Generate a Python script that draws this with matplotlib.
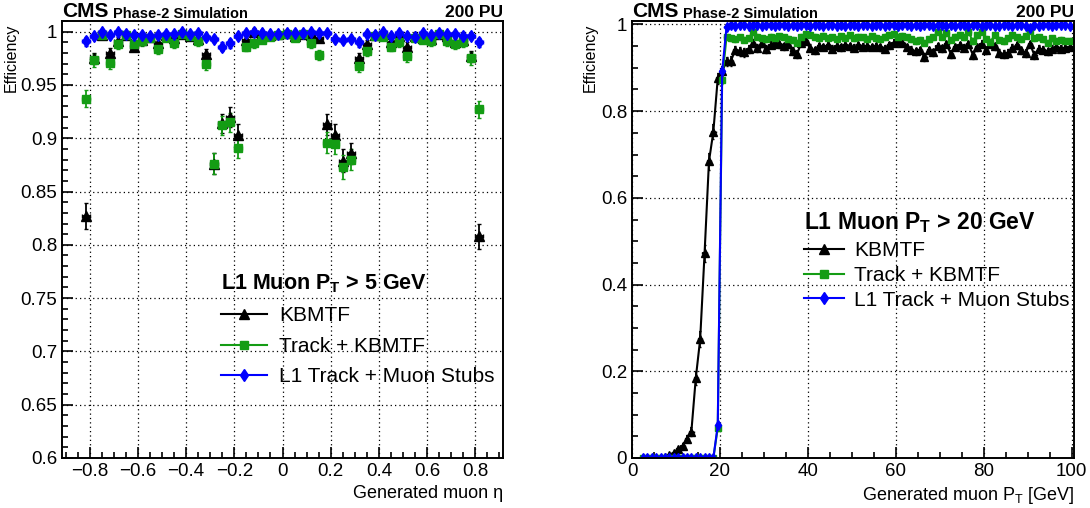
import numpy as np
import matplotlib
matplotlib.use("Agg")
import matplotlib.pyplot as plt
from matplotlib.lines import Line2D
from matplotlib.ticker import MultipleLocator

plt.rcParams['font.family'] = ['Liberation Sans', 'DejaVu Sans']
plt.rcParams['mathtext.fontset'] = 'custom'
plt.rcParams['mathtext.rm'] = 'Liberation Sans'
plt.rcParams['mathtext.it'] = 'Liberation Sans:italic'
plt.rcParams['mathtext.bf'] = 'Liberation Sans:bold'

# ---- efficiency vs eta (50 bins in |eta| < 0.833) ----
eta_edges = np.linspace(-5 / 6, 5 / 6, 51)
eta = 0.5 * (eta_edges[1:] + eta_edges[:-1])
eta_halfwidth = 0.5 * (eta_edges[1] - eta_edges[0])

kbmtf_eta = [0.827, 0.975, 0.997, 0.980, 0.991, 0.997, 0.986, 0.992, 0.995, 0.989,
             0.997, 0.994, 0.998, 0.996, 0.993, 0.979, 0.876, 0.914, 0.920, 0.903,
             0.992, 1.000, 0.999, 0.997, 0.998, 0.999, 0.996, 0.998, 0.997, 0.994,
             0.913, 0.903, 0.879, 0.886, 0.975, 0.988, 0.997, 0.998, 0.990, 0.996,
             0.986, 0.996, 0.994, 0.993, 0.998, 0.996, 0.990, 0.992, 0.977, 0.808]
track_eta = [0.937, 0.973, 0.997, 0.971, 0.988, 0.997, 0.988, 0.991, 0.994, 0.984,
             0.994, 0.989, 0.998, 0.996, 0.991, 0.970, 0.876, 0.912, 0.915, 0.891,
             0.986, 0.989, 0.992, 0.995, 0.997, 0.998, 0.994, 0.998, 0.989, 0.978,
             0.896, 0.895, 0.873, 0.880, 0.968, 0.982, 0.996, 0.995, 0.986, 0.990,
             0.977, 0.994, 0.992, 0.991, 0.998, 0.991, 0.988, 0.990, 0.975, 0.927]
stubs_eta = [0.991, 0.996, 1.000, 0.997, 1.000, 0.998, 0.997, 0.997, 0.996, 0.997,
             0.998, 0.998, 1.000, 0.998, 0.999, 0.995, 0.993, 0.986, 0.989, 0.996,
             0.999, 1.000, 0.999, 0.998, 0.998, 0.999, 0.999, 0.999, 1.000, 0.999,
             0.999, 0.993, 0.992, 0.993, 0.990, 0.998, 0.997, 1.000, 0.996, 0.999,
             0.996, 0.995, 0.999, 0.997, 0.999, 0.998, 0.998, 0.996, 0.996, 0.990]

kbmtf_eta_err = [0.012, 0.005, 0.003, 0.005, 0.004, 0.003, 0.004, 0.004, 0.003, 0.004,
                 0.003, 0.003, 0.003, 0.003, 0.004, 0.005, 0.010, 0.009, 0.009, 0.010,
                 0.004, 0.003, 0.003, 0.003, 0.003, 0.003, 0.003, 0.003, 0.003, 0.003,
                 0.010, 0.010, 0.011, 0.010, 0.005, 0.004, 0.003, 0.003, 0.004, 0.003,
                 0.004, 0.003, 0.003, 0.003, 0.003, 0.003, 0.004, 0.004, 0.005, 0.012]
track_eta_err = [0.008, 0.006, 0.003, 0.006, 0.004, 0.003, 0.004, 0.004, 0.003, 0.005,
                 0.003, 0.004, 0.003, 0.003, 0.004, 0.006, 0.010, 0.009, 0.009, 0.010,
                 0.004, 0.004, 0.003, 0.003, 0.003, 0.003, 0.003, 0.003, 0.004, 0.005,
                 0.010, 0.010, 0.011, 0.010, 0.006, 0.005, 0.003, 0.003, 0.004, 0.004,
                 0.005, 0.003, 0.003, 0.004, 0.003, 0.004, 0.004, 0.004, 0.006, 0.008]
stubs_eta_err = [0.004, 0.003, 0.002, 0.003, 0.002, 0.002, 0.002, 0.002, 0.003, 0.002,
                 0.002, 0.002, 0.002, 0.002, 0.002, 0.003, 0.003, 0.004, 0.004, 0.003,
                 0.002, 0.002, 0.002, 0.002, 0.002, 0.002, 0.002, 0.002, 0.002, 0.002,
                 0.002, 0.003, 0.003, 0.003, 0.004, 0.002, 0.002, 0.002, 0.003, 0.002,
                 0.003, 0.003, 0.002, 0.002, 0.002, 0.002, 0.002, 0.003, 0.003, 0.004]

# ---- efficiency vs generated pT (1 GeV bins, 2-100 GeV) ----
pt = np.arange(2.5, 100.0, 1.0)

kbmtf_pt = [0.000, 0.000, 0.000, 0.000, 0.001, 0.003, 0.008, 0.012, 0.020, 0.028,
            0.044, 0.061, 0.184, 0.274, 0.472, 0.684, 0.753, 0.876, 0.892,
            0.915, 0.916, 0.942, 0.938, 0.936, 0.943, 0.958, 0.946, 0.957, 0.944,
            0.953, 0.957, 0.954, 0.950, 0.954, 0.938, 0.931, 0.958, 0.962, 0.946,
            0.940, 0.950, 0.948, 0.952, 0.944, 0.951, 0.947, 0.953, 0.950, 0.946,
            0.952, 0.949, 0.951, 0.948, 0.950, 0.947, 0.944, 0.952, 0.958, 0.962,
            0.958, 0.948, 0.942, 0.938, 0.940, 0.925, 0.940, 0.936, 0.950, 0.945,
            0.955, 0.932, 0.948, 0.952, 0.946, 0.955, 0.930, 0.947, 0.956, 0.940,
            0.955, 0.950, 0.934, 0.932, 0.935, 0.946, 0.952, 0.940, 0.935, 0.955,
            0.929, 0.944, 0.942, 0.938, 0.944, 0.947, 0.944, 0.946, 0.948]
track_pt = [0.000, 0.000, 0.000, 0.000, 0.000, 0.000, 0.000, 0.000, 0.000, 0.000,
            0.000, 0.000, 0.000, 0.000, 0.000, 0.000, 0.000, 0.070, 0.873,
            0.972, 0.968, 0.966, 0.970, 0.965, 0.968, 0.982, 0.972, 0.968, 0.966,
            0.972, 0.969, 0.973, 0.970, 0.967, 0.964, 0.958, 0.972, 0.978, 0.976,
            0.972, 0.969, 0.974, 0.968, 0.970, 0.966, 0.973, 0.969, 0.975, 0.968,
            0.972, 0.970, 0.967, 0.973, 0.969, 0.966, 0.971, 0.976, 0.978, 0.972,
            0.974, 0.970, 0.966, 0.962, 0.965, 0.958, 0.966, 0.970, 0.983, 0.972,
            0.980, 0.965, 0.972, 0.976, 0.970, 0.982, 0.962, 0.975, 0.982, 0.967,
            0.960, 0.976, 0.965, 0.962, 0.968, 0.975, 0.970, 0.966, 0.974, 0.985,
            0.968, 0.970, 0.966, 0.958, 0.968, 0.962, 0.965, 0.963, 0.962]
stubs_pt = [0.000, 0.000, 0.000, 0.000, 0.000, 0.000, 0.000, 0.000, 0.000, 0.000,
            0.000, 0.000, 0.000, 0.000, 0.000, 0.000, 0.000, 0.075, 0.892,
            0.995, 0.998, 0.997, 0.999, 0.998, 0.997, 0.999, 0.998, 0.996, 0.999,
            0.998, 0.997, 0.999, 0.998, 0.997, 0.999, 0.996, 0.998, 0.999, 0.997,
            0.998, 0.999, 0.997, 0.998, 0.999, 0.997, 0.998, 0.996, 0.999, 0.998,
            0.997, 0.999, 0.998, 0.997, 0.999, 0.998, 0.996, 0.998, 0.999, 0.997,
            0.998, 0.999, 0.997, 0.998, 0.996, 0.998, 0.999, 0.997, 0.998, 0.999,
            0.997, 0.998, 0.996, 0.999, 0.998, 0.997, 0.999, 0.998, 0.997, 0.999,
            0.998, 0.997, 0.996, 0.998, 0.999, 0.997, 0.998, 0.999, 0.997, 0.992,
            0.998, 0.997, 0.999, 0.998, 0.997, 0.998, 0.999, 0.998, 0.997]

kbmtf_pt_err = [0.001, 0.001, 0.001, 0.001, 0.002, 0.003, 0.004, 0.005, 0.006, 0.007,
                0.008, 0.010, 0.016, 0.018, 0.020, 0.019, 0.017, 0.013, 0.012,
                0.011, 0.011, 0.009, 0.010, 0.010, 0.009, 0.008, 0.009, 0.008, 0.009,
                0.008, 0.008, 0.008, 0.008, 0.008, 0.009, 0.009, 0.008, 0.008, 0.008,
                0.008, 0.008, 0.008, 0.008, 0.008, 0.008, 0.008, 0.008, 0.008, 0.008,
                0.008, 0.008, 0.008, 0.008, 0.008, 0.008, 0.008, 0.008, 0.008, 0.008,
                0.008, 0.008, 0.008, 0.008, 0.008, 0.009, 0.008, 0.008, 0.008, 0.008,
                0.008, 0.009, 0.008, 0.008, 0.008, 0.008, 0.009, 0.008, 0.008, 0.008,
                0.008, 0.008, 0.009, 0.009, 0.009, 0.008, 0.008, 0.008, 0.009, 0.008,
                0.009, 0.008, 0.008, 0.008, 0.008, 0.008, 0.008, 0.008, 0.008]
track_pt_err = [0.001, 0.001, 0.001, 0.001, 0.001, 0.001, 0.001, 0.001, 0.001, 0.001,
                0.001, 0.001, 0.001, 0.001, 0.001, 0.001, 0.001, 0.008, 0.011,
                0.006, 0.006, 0.006, 0.006, 0.006, 0.006, 0.005, 0.006, 0.006, 0.006,
                0.006, 0.006, 0.006, 0.006, 0.006, 0.006, 0.006, 0.006, 0.006, 0.006,
                0.006, 0.006, 0.006, 0.006, 0.006, 0.006, 0.006, 0.006, 0.006, 0.006,
                0.006, 0.006, 0.006, 0.006, 0.006, 0.006, 0.006, 0.006, 0.006, 0.006,
                0.006, 0.006, 0.006, 0.006, 0.006, 0.006, 0.006, 0.006, 0.005, 0.006,
                0.006, 0.006, 0.006, 0.006, 0.006, 0.005, 0.006, 0.006, 0.005, 0.006,
                0.006, 0.006, 0.006, 0.006, 0.006, 0.006, 0.006, 0.006, 0.006, 0.005,
                0.006, 0.006, 0.006, 0.006, 0.006, 0.006, 0.006, 0.006, 0.006]
stubs_pt_err = [0.001, 0.001, 0.001, 0.001, 0.001, 0.001, 0.001, 0.001, 0.001, 0.001,
                0.001, 0.001, 0.001, 0.001, 0.001, 0.001, 0.001, 0.008, 0.010,
                0.003, 0.002, 0.002, 0.002, 0.002, 0.002, 0.002, 0.002, 0.002, 0.002,
                0.002, 0.002, 0.002, 0.002, 0.002, 0.002, 0.002, 0.002, 0.002, 0.002,
                0.002, 0.002, 0.002, 0.002, 0.002, 0.002, 0.002, 0.002, 0.002, 0.002,
                0.002, 0.002, 0.002, 0.002, 0.002, 0.002, 0.002, 0.002, 0.002, 0.002,
                0.002, 0.002, 0.002, 0.002, 0.002, 0.002, 0.002, 0.002, 0.002, 0.002,
                0.002, 0.002, 0.002, 0.002, 0.002, 0.002, 0.002, 0.002, 0.002, 0.002,
                0.002, 0.002, 0.002, 0.002, 0.002, 0.002, 0.002, 0.002, 0.002, 0.003,
                0.002, 0.002, 0.002, 0.002, 0.002, 0.002, 0.002, 0.002, 0.002]

labels = ["KBMTF", "Track + KBMTF", "L1 Track + Muon Stubs"]
colors = ["black", "#149c14", "#0000ff"]
markers = ["^", "s", "d"]
msizes = [6.5, 5.5, 6.5]

fig = plt.figure(figsize=(10.9, 5.08), dpi=100)
ax1 = fig.add_axes([62 / 1090, 50 / 508, 441 / 1090, 437 / 508])
ax2 = fig.add_axes([632 / 1090, 50 / 508, 442 / 1090, 437 / 508])


def style_axes(ax):
    for sp in ax.spines.values():
        sp.set_linewidth(1.4)
    ax.tick_params(which='both', direction='in', top=False, right=False,
                   labelsize=13.5, width=1.2)
    ax.tick_params(which='major', length=8)
    ax.tick_params(which='minor', length=4.5)
    ax.grid(True, which='major', color='black', linestyle=(0, (1, 2.5)), linewidth=0.9)
    ax.set_axisbelow(True)


def header(ax):
    t = ax.text(0.0, 1.009, "CMS", transform=ax.transAxes, fontsize=15,
                fontweight='bold', ha='left', va='baseline')
    ax.annotate("Phase-2 Simulation", xy=(1, 0), xycoords=t, xytext=(3, 0),
                textcoords='offset points', fontsize=10.5, fontweight='bold',
                ha='left', va='bottom')
    ax.text(1.0, 1.009, "200 PU", transform=ax.transAxes, fontsize=12.5,
            fontweight='bold', ha='right', va='baseline')


def legend_handles():
    return [Line2D([], [], color=c, marker=m, markersize=s, lw=1.5)
            for c, m, s in zip(colors, markers, msizes)]


# left panel
eta_series = [(kbmtf_eta, kbmtf_eta_err), (track_eta, track_eta_err), (stubs_eta, stubs_eta_err)]
for (vals, errs), c, m, s in zip(eta_series, colors, markers, msizes):
    ax1.errorbar(eta, vals, yerr=errs, xerr=eta_halfwidth, fmt=m, color=c,
                 markersize=s, elinewidth=1.3, capsize=1.2, linestyle='none')

ax1.set_xlim(-0.915, 0.915)
ax1.set_ylim(0.6, 1.01)
ax1.xaxis.set_minor_locator(MultipleLocator(0.05))
ax1.yaxis.set_minor_locator(MultipleLocator(0.01))
ax1.set_yticks([0.6, 0.65, 0.7, 0.75, 0.8, 0.85, 0.9, 0.95, 1.0])
ax1.set_yticklabels(["0.6", "0.65", "0.7", "0.75", "0.8", "0.85", "0.9", "0.95", "1"])
ax1.set_xticks([-0.8, -0.6, -0.4, -0.2, 0, 0.2, 0.4, 0.6, 0.8])
ax1.set_xticklabels(["\u22120.8", "\u22120.6", "\u22120.4", "\u22120.2", "0",
                     "0.2", "0.4", "0.6", "0.8"])
style_axes(ax1)
ax1.set_xlabel("Generated muon \u03b7", loc='right', fontsize=13)
ax1.set_ylabel("Efficiency", fontsize=11.5, ha='right')
ax1.yaxis.set_label_coords(-0.099, 0.993)
header(ax1)
ax1.legend(legend_handles(), labels, loc='upper left',
           bbox_to_anchor=(0.327, 0.458), frameon=False, fontsize=15,
           title=r"L1 Muon P$_{\mathbf{T}}$ > 5 GeV",
           title_fontproperties={'weight': 'bold', 'size': 15.5},
           alignment='left', handlelength=2.2, handletextpad=0.6,
           labelspacing=0.55, borderpad=0.2)

# right panel
pt_series = [(kbmtf_pt, kbmtf_pt_err), (track_pt, track_pt_err), (stubs_pt, stubs_pt_err)]
for (vals, errs), c, m, s in zip(pt_series, colors, markers, msizes):
    ax2.errorbar(pt, vals, yerr=errs, xerr=0.5, fmt=m + '-', color=c,
                 markersize=s * 0.8, lw=1.5, elinewidth=1.2, capsize=1.0)

ax2.set_xlim(0, 100.5)
ax2.set_ylim(0, 1.008)
ax2.xaxis.set_major_locator(MultipleLocator(20))
ax2.xaxis.set_minor_locator(MultipleLocator(5))
ax2.yaxis.set_minor_locator(MultipleLocator(0.05))
ax2.set_yticks([0, 0.2, 0.4, 0.6, 0.8, 1.0])
ax2.set_yticklabels(["0", "0.2", "0.4", "0.6", "0.8", "1"])
style_axes(ax2)
ax2.set_xlabel(r"Generated muon P$_{\mathrm{T}}$ [GeV]", loc='right', fontsize=13)
ax2.set_ylabel("Efficiency", fontsize=11.5, ha='right')
ax2.yaxis.set_label_coords(-0.077, 0.993)
header(ax2)
ax2.legend(legend_handles(), labels, loc='upper left',
           bbox_to_anchor=(0.356, 0.6), frameon=False, fontsize=15,
           title=r"L1 Muon P$_{\mathbf{T}}$ > 20 GeV",
           title_fontproperties={'weight': 'bold', 'size': 16.5},
           alignment='left', handlelength=1.9, handletextpad=0.5,
           labelspacing=0.28, borderpad=0.2)

fig.savefig("out.png", dpi=100)
